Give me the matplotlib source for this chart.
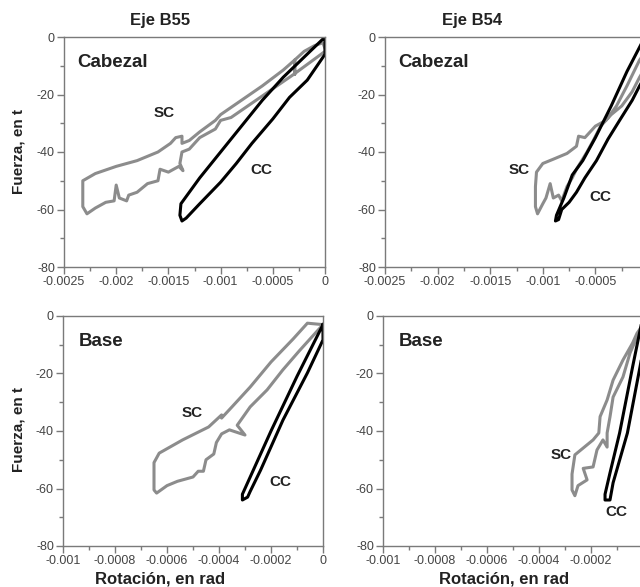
import matplotlib
matplotlib.use("Agg")
import matplotlib.pyplot as plt
from matplotlib.ticker import FixedLocator, MultipleLocator

plt.rcParams['font.family'] = ['Liberation Sans', 'DejaVu Sans']

# --- data (rotation in rad, force in t) ---
# Eje B55, Cabezal
b55_cab_sc_x = [0, -0.00015, -0.0003, -0.0005, -0.0007, -0.0009, -0.001, -0.00105, -0.0012, -0.0013, -0.00137,
                -0.00139, -0.00136, -0.0014, -0.0015, -0.00158, -0.0016, -0.0017, -0.0018, -0.00188, -0.0019,
                -0.00197, -0.002, -0.00202, -0.0021, -0.0022, -0.00228, -0.00232, -0.00232, -0.0022, -0.002,
                -0.0018, -0.0016, -0.00148, -0.00143, -0.00137, -0.00137, -0.0013, -0.0012, -0.00105, -0.001,
                -0.0008, -0.0006, -0.0004, -0.00029, -0.00029, -0.00029, -0.0002, -0.0001, -0.00002, 0]
b55_cab_sc_y = [-5, -9, -13, -18, -23, -28, -29, -32, -35, -39, -40,
                -44, -46.5, -45, -47, -46, -50, -51, -54, -55, -57,
                -56, -51.5, -57, -57.5, -59.5, -61.5, -59, -50, -47.5, -45,
                -43, -40, -37, -35, -34.5, -37, -36, -33, -29, -27,
                -22, -17, -11.5, -8, -13, -8, -5, -3, -2, -4]
b55_cab_cc_x = [0, -0.0002, -0.0004, -0.0006, -0.0008, -0.001, -0.0012, -0.0013, -0.00138, -0.00139, -0.00137,
                -0.00133, -0.0012, -0.001, -0.00085, -0.0007, -0.0005, -0.00034, -0.00017, 0, 0]
b55_cab_cc_y = [0, -7, -14, -22, -31, -40, -49, -54, -58, -62, -64,
                -63, -58, -50.5, -44, -37, -28.5, -21, -15, -6, 0]

# Eje B54, Cabezal
b54_cab_sc_x = [0, -0.00008, -0.0002, -0.0003, -0.0004, -0.0005, -0.0006, -0.00066, -0.00068, -0.00077, -0.0009,
                -0.001, -0.00106, -0.00107, -0.00107, -0.00105, -0.001, -0.00097, -0.00093, -0.0009, -0.00085,
                -0.00082, -0.00077, -0.00072, -0.00068, -0.00063, -0.00058, -0.00052, -0.00045, -0.00035,
                -0.00025, -0.00015, -0.00008, 0]
b54_cab_sc_y = [-4, -8, -17, -24, -29, -31, -35, -34.5, -38, -40.5, -42.5,
                -44, -47, -52, -59, -61.5, -58, -56, -51, -56, -55,
                -57, -52, -49, -46, -43, -40, -36, -31, -27,
                -24, -19, -14, -9]
b54_cab_cc_x = [-0.00003, -0.0002, -0.00035, -0.0005, -0.00062, -0.00072, -0.0008, -0.00087, -0.00088,
                -0.00085, -0.00082, -0.00075, -0.00068, -0.0006, -0.00049, -0.00038, -0.00027, -0.00015,
                -0.00008, 0, -0.00003]
b54_cab_cc_y = [0, -12, -24, -35, -43, -48, -56, -62, -64,
                -63.5, -60, -57.5, -54, -49, -43, -35.5, -29, -22,
                -17, -12, 0]

# Eje B55, Base
b55_base_sc_x = [0, -0.00006, -0.000115, -0.0002, -0.00028, -0.00035, -0.00039, -0.00039, -0.00044, -0.00054,
                 -0.00063, -0.00065, -0.00065, -0.00064, -0.0006, -0.00056, -0.0005, -0.00048, -0.00046,
                 -0.00045, -0.00042, -0.00041, -0.00039, -0.00036, -0.0003, -0.00033, -0.00028, -0.000215,
                 -0.000155, -0.00009, -0.00005, -0.00002, 0]
b55_base_sc_y = [-3, -2.5, -8, -16, -24.7, -31.6, -35.5, -34.4, -38.6, -43.1,
                 -47.7, -51, -60.5, -61.6, -59, -57.5, -56, -54, -54,
                 -50, -48, -44, -41, -39.6, -41.4, -38, -31.6, -25.7,
                 -18.8, -12, -8, -5, -3]
b55_base_cc_x = [0, -0.0001, -0.0002, -0.00028, -0.00031, -0.00031, -0.00029, -0.00028, -0.00024, -0.000154,
                 -0.00006, 0, 0]
b55_base_cc_y = [-3, -21, -40, -56, -62, -64, -63, -61, -53.6, -36.2,
                 -19.8, -8.3, -3]

# Eje B54, Base
b54_base_sc_x = [0, -0.000023, -0.00004, -0.000077, -0.000115, -0.000138, -0.000165, -0.00017, -0.000192,
                 -0.000262, -0.000273, -0.000273, -0.000262, -0.00025, -0.000215, -0.00023, -0.000192,
                 -0.000177, -0.000154, -0.000138, -0.000138, -0.000127, -0.000115, -0.000077, -0.00005,
                 -0.000023, 0]
b54_base_sc_y = [-3, -6, -9.4, -15.3, -22.3, -29.2, -35, -40.7, -43.1,
                 -48.3, -55, -60.5, -62.5, -59, -57, -53, -52.5,
                 -46.6, -43.1, -45.6, -40.7, -35.1, -28.2, -21.2, -12.9,
                 -7.3, -4]
b54_base_cc_x = [0, -0.00004, -0.00009, -0.000127, -0.000146, -0.000146, -0.000127, -0.000115, -0.00006,
                 -0.0000115, 0, 0]
b54_base_cc_y = [0, -17.7, -40.7, -54.6, -62, -64, -64, -58, -40.7,
                 -17.7, -12, 0]

top_xticks = [-0.0025, -0.002, -0.0015, -0.001, -0.0005, 0]
top_xlabels = ['-0.0025', '-0.002', '-0.0015', '-0.001', '-0.0005', '0']
bot_xticks = [-0.001, -0.0008, -0.0006, -0.0004, -0.0002, 0]
bot_xlabels = ['-0.001', '-0.0008', '-0.0006', '-0.0004', '-0.0002', '0']
yticks = [0, -20, -40, -60, -80]
ylabels = ['0', '-20', '-40', '-60', '-80']

SC_COLOR = '#8c8c8c'
CC_COLOR = '#000000'
SPINE = '#7a7a7a'
TICKTXT = '#444444'
TXT = '#222222'

W, H = 640, 587
fig = plt.figure(figsize=(W / 100, H / 100), dpi=100)


def px_axes(left, top, right, bottom):
    return fig.add_axes([left / W, 1 - bottom / H, (right - left) / W, (bottom - top) / H])


def style(ax, xt, xl, minor_step, name, sc_pos, cc_pos):
    ax.set_xlim(xt[0], 0)
    ax.set_ylim(-80, 0)
    ax.xaxis.set_major_locator(FixedLocator(xt))
    ax.set_xticklabels(xl)
    ax.xaxis.set_minor_locator(MultipleLocator(minor_step))
    ax.yaxis.set_major_locator(FixedLocator(yticks))
    ax.set_yticklabels(ylabels)
    ax.yaxis.set_minor_locator(MultipleLocator(10))
    for s in ax.spines.values():
        s.set_color(SPINE)
        s.set_linewidth(1.0)
    ax.tick_params(which='major', length=5, width=1, color=SPINE, labelsize=9,
                   labelcolor=TICKTXT, pad=1.5)
    ax.tick_params(which='minor', length=3, width=1, color=SPINE)
    ax.text(0.05 if 'Cab' in name else 0.06, 0.89, name, transform=ax.transAxes,
            fontsize=13.5, fontweight='bold', color=TXT, va='center', ha='left')
    ax.text(sc_pos[0], sc_pos[1], 'SC', transform=ax.transAxes, fontsize=11,
            fontweight='bold', color=TXT, va='center', ha='center')
    ax.text(cc_pos[0], cc_pos[1], 'CC', transform=ax.transAxes, fontsize=11,
            fontweight='bold', color=TXT, va='center', ha='center')


# axes placed in pixels; the right column runs past the figure edge like the reference crop
ax_tl = px_axes(64, 37, 325, 267)
ax_tr = px_axes(385, 37, 648, 267)
ax_bl = px_axes(63, 316, 323, 546)
ax_br = px_axes(383, 316, 643, 546)

ax_tl.plot(b55_cab_sc_x, b55_cab_sc_y, color=SC_COLOR, lw=2.2)
ax_tl.plot(b55_cab_cc_x, b55_cab_cc_y, color=CC_COLOR, lw=2.2)
ax_tr.plot(b54_cab_sc_x, b54_cab_sc_y, color=SC_COLOR, lw=2.2)
ax_tr.plot(b54_cab_cc_x, b54_cab_cc_y, color=CC_COLOR, lw=2.2)
ax_bl.plot(b55_base_sc_x, b55_base_sc_y, color=SC_COLOR, lw=2.2)
ax_bl.plot(b55_base_cc_x, b55_base_cc_y, color=CC_COLOR, lw=2.2)
ax_br.plot(b54_base_sc_x, b54_base_sc_y, color=SC_COLOR, lw=2.2)
ax_br.plot(b54_base_cc_x, b54_base_cc_y, color=CC_COLOR, lw=2.2)

# the right column is cut at the figure edge, so its "0" label is not shown
style(ax_tl, top_xticks, top_xlabels, 0.00025, 'Cabezal', (0.383, 0.67), (0.755, 0.42))
style(ax_tr, top_xticks, top_xlabels[:-1] + [''], 0.00025, 'Cabezal', (0.511, 0.42), (0.818, 0.304))
style(ax_bl, bot_xticks, bot_xlabels, 0.0001, 'Base', (0.496, 0.578), (0.835, 0.278))
style(ax_br, bot_xticks, bot_xlabels[:-1] + [''], 0.0001, 'Base', (0.685, 0.396), (0.896, 0.148))

# titles and axis labels as figure text
fig.text(160 / W, 1 - 20 / H, 'Eje B55', fontsize=12, fontweight='bold', color=TXT, ha='center', va='center')
fig.text(472 / W, 1 - 20 / H, 'Eje B54', fontsize=12, fontweight='bold', color=TXT, ha='center', va='center')
fig.text(19 / W, 1 - 152 / H, 'Fuerza, en t', fontsize=11, fontweight='bold', color=TXT,
         rotation=90, ha='center', va='center')
fig.text(19 / W, 1 - 429 / H, 'Fuerza, en t', fontsize=11, fontweight='bold', color=TXT,
         rotation=90, ha='center', va='center')
fig.text(160 / W, 1 - 579 / H, 'Rotación, en rad', fontsize=12, fontweight='bold', color=TXT,
         ha='center', va='center')
fig.text(504 / W, 1 - 579 / H, 'Rotación, en rad', fontsize=12, fontweight='bold', color=TXT,
         ha='center', va='center')

fig.savefig('out.png', dpi=100)
